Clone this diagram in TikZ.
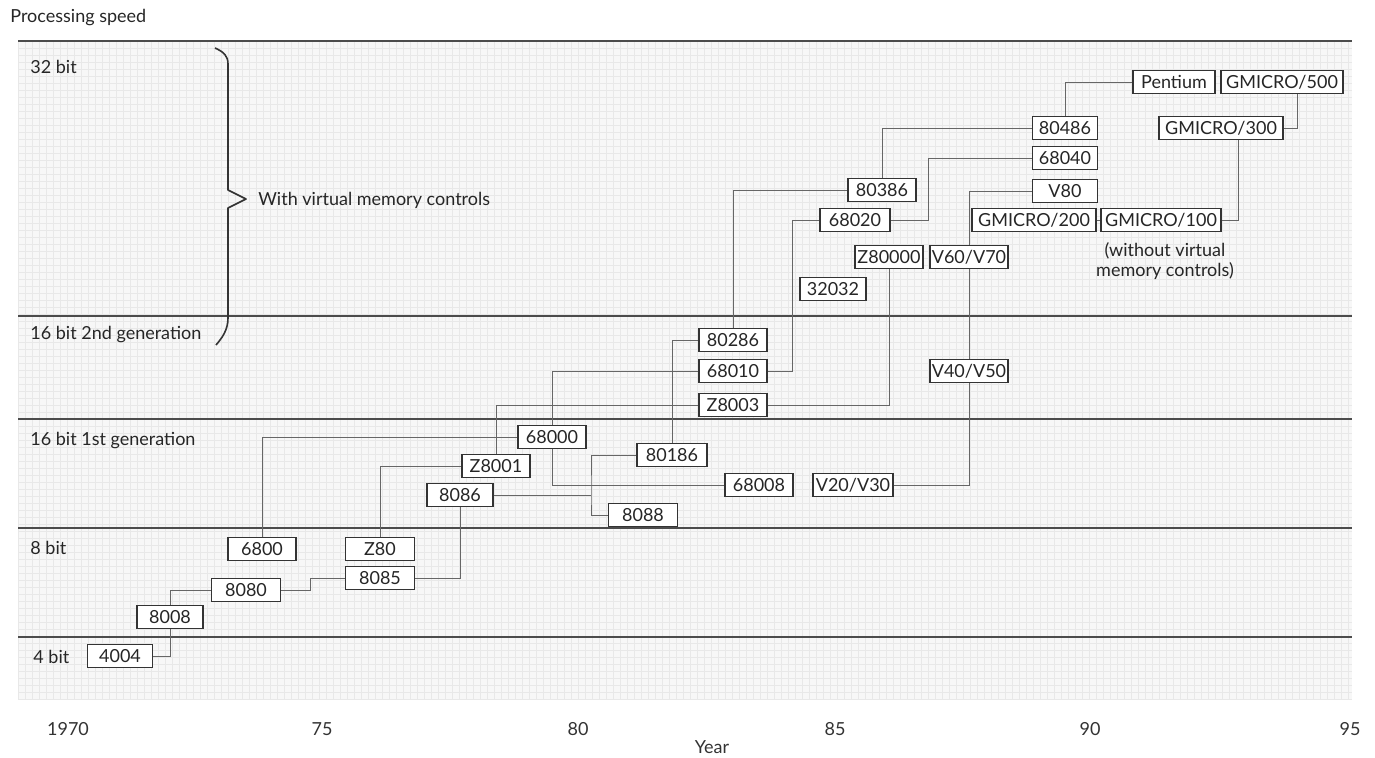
\documentclass[tikz,border=0pt]{standalone}
\usepackage{fontspec}
\setmainfont{Lato}
\begin{document}
\begin{tikzpicture}[x=0.5pt,y=-0.5pt,
  bx/.style={draw=black!80, line width=0.7pt, fill=white, minimum height=11.5pt, inner sep=0pt, font=\fontsize{9}{10}\selectfont, text=black!85},
  ln/.style={draw=black!60, line width=0.5pt},
  band/.style={draw=black!70, line width=0.9pt},
  lbl/.style={anchor=west, inner sep=0pt, font=\fontsize{9}{10}\selectfont, text=black!85},
  yr/.style={inner sep=0pt, font=\fontsize{9}{10}\selectfont, text=black!80},
  gridln/.style={draw=black!9, line width=0.3pt},
]
\useasboundingbox (0,0) rectangle (1375,757);
% background grid
\fill[black!3] (18,41) rectangle (1352,700);
\foreach \x in {18,25,...,1352} \draw[gridln] (\x,41) -- (\x,700);
\foreach \y in {41,48,...,700} \draw[gridln] (18,\y) -- (1352,\y);

% band lines
\draw[band] (18,41) -- (1352,41);
\draw[band] (18,316) -- (1352,316);
\draw[band] (18,419) -- (1352,419);
\draw[band] (18,528) -- (1352,528);
\draw[band] (18,637) -- (1352,637);

% titles and labels
\node[lbl] (title) at (10,18) {Processing speed};
\node[lbl] (b32) at (30,67) {32 bit};
\node[lbl] (b162) at (30,335) {16 bit 2nd generation};
\node[lbl] (b161) at (30,440) {16 bit 1st generation};
\node[lbl] (b8) at (30,548) {8 bit};
\node[lbl] (b4) at (33,657) {4 bit};

% brace
\draw[black!80, line width=0.8pt, line join=round]
  (215,48) .. controls (224,52) and (228,56) .. (228,64)
  -- (228,190) -- (246,199) -- (228,208) -- (228,318)
  .. controls (228,330) and (222,338) .. (216,345);
\node[lbl] (vm) at (258,200) {With virtual memory controls};

% years
\node[yr] (y70) at (68,729) {1970};
\node[yr] (y75) at (322,729) {75};
\node[yr] (y80) at (578,729) {80};
\node[yr] (y85) at (835,729) {85};
\node[yr] (y90) at (1090,729) {90};
\node[yr] (y95) at (1350,729) {95};
\node[yr] (year) at (712,747) {Year};

% boxes
\node[bx, minimum width=32.5pt] (n4004) at (120,656) {4004};
\node[bx, minimum width=33pt] (n8008) at (170,617) {8008};
\node[bx, minimum width=34.5pt] (n8080) at (246,590) {8080};
\node[bx, minimum width=34.5pt] (n8085) at (380,578) {8085};
\node[bx, minimum width=34pt] (n6800) at (262,549) {6800};
\node[bx, minimum width=34.5pt] (nZ80) at (380,549) {Z80};
\node[bx, minimum width=33pt] (n8086) at (460,495) {8086};
\node[bx, minimum width=34pt] (nZ8001) at (496,466) {Z8001};
\node[bx, minimum width=34pt] (n68000) at (552,437) {68000};
\node[bx, minimum width=35pt] (n80186) at (672,455) {80186};
\node[bx, minimum width=34.5pt] (n8088) at (643,515) {8088};
\node[bx, minimum width=34pt] (n68008) at (759,485) {68008};
\node[bx, minimum width=40pt] (nV2030) at (853,485) {V20/V30};
\node[bx, minimum width=34pt] (n80286) at (733,340) {80286};
\node[bx, minimum width=34pt] (n68010) at (733,371) {68010};
\node[bx, minimum width=34pt] (nZ8003) at (733,405) {Z8003};
\node[bx, minimum width=39pt] (nV4050) at (969,371) {V40/V50};
\node[bx, minimum width=33pt] (n32032) at (833,289) {32032};
\node[bx, minimum width=34pt] (nZ80000) at (889,257) {Z80000};
\node[bx, minimum width=39pt] (nV6070) at (969,257) {V60/V70};
\node[bx, minimum width=35pt] (n68020) at (855,220) {68020};
\node[bx, minimum width=34pt] (n80386) at (882,190) {80386};
\node[bx, minimum width=32.5pt] (nV80) at (1065,191) {V80};
\node[bx, minimum width=62pt] (nG200) at (1034,220) {GMICRO/200};
\node[bx, minimum width=60pt] (nG100) at (1161,220) {GMICRO/100};
\node[bx, minimum width=32.5pt] (n68040) at (1065,158) {68040};
\node[bx, minimum width=32.5pt] (n80486) at (1065,128) {80486};
\node[bx, minimum width=62pt] (nG300) at (1221,128) {GMICRO/300};
\node[bx, minimum width=41pt] (nPent) at (1174,82) {Pentium};
\node[bx, minimum width=61pt] (nG500) at (1282,82) {GMICRO/500};
\node[lbl, anchor=center, align=center] (wovm) at (1165,261) {(without virtual\\memory controls)};

% connectors
\coordinate (j86) at (591,495);
\draw[ln] (n4004.east) -| (n8008.south);
\draw[ln] (n8008.north) |- (n8080.west);
\draw[ln] (n8080.east) -- ++(29,0) |- (n8085.west);
\draw[ln] (n8085.east) -| (n8086.south);
\draw[ln] (n6800.north) |- (n68000.west);
\draw[ln] (nZ80.north) |- (nZ8001.west);
\draw[ln] (n8086.east) -- (j86);
\draw[ln] (n80186.west) -| (j86) |- (n8088.west);
\draw[ln] (n68000.south) |- (n68008.west);
\draw[ln] (n68000.north) |- (n68010.west);
\draw[ln] (nZ8001.north) |- (nZ8003.west);
\draw[ln] (n80186.north) |- (n80286.west);
\draw[ln] (n80286.north) |- (n80386.west);
\draw[ln] (n68010.east) -- ++(25,0) |- (n68020.west);
\draw[ln] (nZ8003.east) -| (nZ80000.south);
\draw[ln] (nV2030.east) -| (nV4050.south);
\draw[ln] (nV4050.north) -- (nV6070.south);
\draw[ln] (nV6070.north) |- (nV80.west);
\draw[ln] (n80386.north) |- (n80486.west);
\draw[ln] (n68020.east) -- ++(38,0) |- (n68040.west);
\draw[ln] (n80486.north) |- (nPent.west);
\draw[ln] (nG200.east) -- (nG100.west);
\draw[ln] (nG100.east) -| ([xshift=8.5pt]nG300.south);
\draw[ln] (nG300.east) -| ([xshift=7.5pt]nG500.south);
\end{tikzpicture}
\end{document}
